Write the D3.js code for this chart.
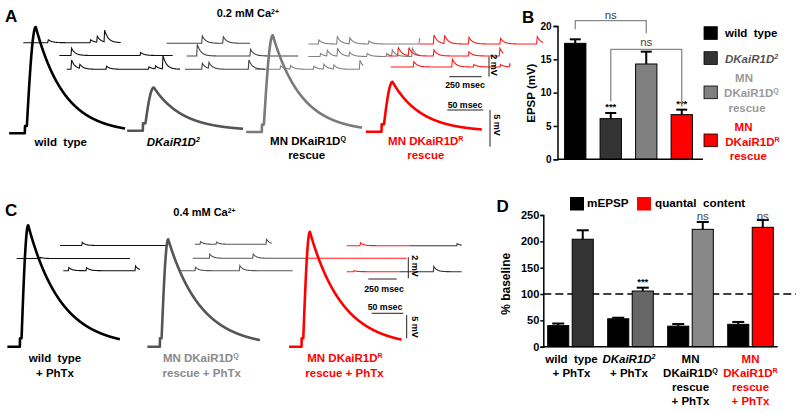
<!DOCTYPE html>
<html><head><meta charset="utf-8">
<script src="https://cdn.jsdelivr.net/npm/d3@7"></script>
<style>body{margin:0;background:#fff} svg{display:block} text{font-family:"Liberation Sans",Arial,sans-serif;white-space:pre}</style>
</head><body><svg id="fig" width="800" height="412"></svg>
<script>
// ================= DATA =================
// Panel B : EPSP amplitude (mV), 0.2 mM Ca2+
const bCategories = ["wild type", "DKaiR1D2", "MN DKaiR1DQ rescue", "MN DKaiR1DR rescue"];
const bEpsp = [17.4, 6.1, 14.3, 6.7];
const bSem = [0.6, 0.85, 1.85, 0.75];
const bSig = ["", "***", "", "***"];
const bTicks = [0, 5, 10, 15, 20];

// Panel D : % baseline, + PhTx
const dGroups = ["wild type + PhTx", "DKaiR1D2 + PhTx", "MN DKaiR1DQ rescue + PhTx", "MN DKaiR1DR rescue + PhTx"];
const dSeries = ["mEPSP", "quantal content"];
const dMepsp = [40, 53, 39, 42.5];
const dMepspSem = [4, 2, 4, 4.5];
const dQuantal = [204, 105.7, 222.8, 226.6];
const dQuantalSem = [17, 6.3, 14, 14];
const dSig = ["", "***", "ns", "ns"];
const dTicks = [0, 50, 100, 150, 200, 250];
const dBaseline = 100;

// Representative evoked EPSP amplitudes (mV)
const epspAmpA = [14.5, 5.9, 13.2, 6.8];   // wt, DKaiR1D2, Q rescue, R rescue (0.2 mM)
const epspAmpC = [26, 23, 24.6];           // wt, Q rescue, R rescue (+PhTx, 0.4 mM)

// Spontaneous miniature events per sweep: [time (ms), amplitude (mV)]
const minisA_wt = [
  [[188,0.3],[515,0.3],[566,0.6],[623,1.17]],
  [[90,0.72],[623,0.3]],
  [[33,0.93],[97,0.4],[303,0.3],[630,0.25],[681,0.3],[738,1.33]]];
const minisA_dk = [
  [[270,0.73],[432,0.66]],
  [[77,1.17],[488,0.67]],
  [[129,0.6],[180,0.6],[488,0.93]]];
const minisA_q = [
  [[77,0.4],[219,0.73],[316,0.6],[463,0.3],[854,0.5]],
  [[90,0.3],[142,0.58],[221,0.8],[314,0.4],[450,0.3],[600,0.3],[643,0.6],[798,0.8]],
  [[193,0.35],[270,0.35],[450,0.3],[527,0.5],[604,0.4],[805,0.9]]];
const minisA_r = [
  [[103,0.9],[185,0.83],[373,0.67],[617,0.57],[900,0.73]],
  [[80,0.87],[162,0.8],[355,0.6],[625,0.43],[864,0.77]],
  [[174,0.53],[471,0.77],[637,0.25],[843,0.25],[915,0.3]]];
const minisC_wt = [[[191,0.3]], [[205,0.1]], [[44,0.3],[200,0.3],[631,0.45]]];
const minisC_q = [[[44,0.25],[185,0.2],[625,0.48]], [[146,0.4],[528,0.4]], [[132,0.33],[522,0.48]]];
const minisC_r = [[[117,0.28]], [], [[60,0.1]]];
const minisC_tail = [[[410,0.2]], [[293,0.5]]];

// ================= HELPERS =================
const svg = d3.select("#fig");

function label(g, x, y, parts, o = {}) {
  const t = g.append("text").attr("x", x).attr("y", y)
    .attr("text-anchor", o.anchor || "middle")
    .attr("font-size", o.size || 11.5)
    .attr("font-weight", o.weight || "bold")
    .attr("font-style", o.italic ? "italic" : "normal")
    .attr("fill", o.color || "#000");
  if (o.family) t.style("font-family", o.family);
  if (o.rotate) t.attr("transform", `rotate(${o.rotate},${x},${y})`);
  (Array.isArray(parts) ? parts : [parts]).forEach(p => {
    if (typeof p === "string") t.append("tspan").text(p);
    else t.append("tspan").attr("baseline-shift", "super").attr("font-size", "62%").text(p.sup);
  });
  return t;
}

function miniKernel(dt) {
  if (dt < 0) return 0;
  if (dt < 5) return dt / 5;
  return Math.exp(-(dt - 5) / 28);
}
function drawSweep(g, events, c) {
  const x = d3.scaleLinear().domain([0, c.dur]).range([c.x0, c.x0 + c.dur * c.pxMs]);
  const y = d3.scaleLinear().domain([0, 1]).range([c.y0, c.y0 - c.pxMv]);
  const ts = d3.range(0, c.dur + 0.01, 1);
  const v = t => d3.sum(events, e => e[1] * miniKernel(t - e[0]));
  g.append("path").datum(ts)
    .attr("d", d3.line().x(t => x(t)).y(t => y(v(t))))
    .attr("fill", "none").attr("stroke", c.color).attr("stroke-width", c.w || 1.1);
}
function epspKernel(t, c) {
  if (t < 0) return 0;
  const d = 2;
  let k;
  if (t < d) k = 0;
  else if (t < d + c.rise) k = Math.sin(Math.PI / 2 * (t - d) / c.rise);
  else k = Math.exp(-(t - d - c.rise) / c.tau);
  return k;
}
function drawEpsp(g, amp, c) {
  const x = d3.scaleLinear().domain([-c.pre, c.post]).range([c.onset - c.pre * c.pxMs, c.onset + c.post * c.pxMs]);
  const y = d3.scaleLinear().domain([0, 1]).range([c.y0, c.y0 - c.pxMv]);
  const ts = d3.range(-c.pre, c.post + 0.01, 0.25);
  const v = t => {
    let val = amp * epspKernel(t, c);
    if (t >= 0 && t < 4) val = Math.max(val, c.art);
    return val;
  };
  g.append("path").datum(ts)
    .attr("d", d3.line().x(t => x(t)).y(t => y(v(t))))
    .attr("fill", "none").attr("stroke", c.color).attr("stroke-width", 2.6)
    .attr("stroke-linejoin", "round");
}

// ================= PANEL A =================
const gA = svg.append("g");
label(gA, 5, 22, "A", {size: 17, anchor: "start"});
label(gA, 216.7, 17, ["0.2 mM Ca", {sup: "2+"}], {size: 11, anchor: "start"});

const mA = {pxMs: 0.1296, pxMv: 10};
const sweepLayoutA = {
  wt: [{x0: 23.3, y0: 42.7, dur: 752}, {x0: 59.3, y0: 55.5, dur: 875}, {x0: 66.7, y0: 69.3, dur: 874}],
  dk: [{x0: 166.7, y0: 43.3, dur: 643}, {x0: 186.7, y0: 56, dur: 861}, {x0: 185, y0: 69.3, dur: 617}],
  q:  [{x0: 308.3, y0: 44, dur: 862}, {x0: 308.3, y0: 56.5, dur: 862}, {x0: 255, y0: 69.3, dur: 836}],
  r:  [{x0: 420, y0: 44, dur: 949}, {x0: 387.3, y0: 56, dur: 895}, {x0: 390.7, y0: 67, dur: 926}]
};
const miniColA = {wt: "#111", dk: "#444", q: "#808080", r: "#ff1a1a"};
[["q", minisA_q], ["dk", minisA_dk], ["wt", minisA_wt], ["r", minisA_r]].forEach(([k, arr]) => {
  arr.forEach((ev, i) => drawSweep(gA, ev, Object.assign({}, mA, sweepLayoutA[k][i], {color: miniColA[k]})));
});

const eA = {pxMs: 0.72, pxMv: 7.33, pre: 22, post: 139, rise: 13, tau: 40, art: 1.0};
const epspLayoutA = [
  {onset: 25, y0: 133.3, color: "#000"},
  {onset: 143, y0: 130.7, color: "#555"},
  {onset: 262, y0: 132, color: "#7a7a7a"},
  {onset: 381.7, y0: 131.7, color: "#ff0000"}];
epspAmpA.forEach((a, i) => drawEpsp(gA, a, Object.assign({}, eA, epspLayoutA[i])));

// labels A
label(gA, 60.8, 145.7, "wild  type");
label(gA, 173.3, 145.7, ["DKaiR1D", {sup: "2"}], {italic: true});
label(gA, 308, 145, ["MN DKaiR1D", {sup: "Q"}]);
label(gA, 306.7, 159.3, "rescue");
label(gA, 425.8, 145, ["MN DKaiR1D", {sup: "R"}], {color: "#ff0000"});
label(gA, 425.8, 159.3, "rescue", {color: "#ff0000"});

// scale bars A
const sbA = gA.append("g").attr("stroke", "#222").attr("stroke-width", 1);
sbA.append("line").attr("x1", 489).attr("x2", 489).attr("y1", 56.7).attr("y2", 76.7);
sbA.append("line").attr("x1", 449.3).attr("x2", 481.7).attr("y1", 76.7).attr("y2", 76.7);
sbA.append("line").attr("x1", 447.3).attr("x2", 483.3).attr("y1", 110).attr("y2", 110);
sbA.append("line").attr("x1", 490).attr("x2", 490).attr("y1", 110).attr("y2", 146.7);
label(gA, 491, 65, "2 mV", {size: 9, rotate: 90});
label(gA, 465, 88, "250 msec", {size: 8.8});
label(gA, 465, 107.5, "50 msec", {size: 8.8});
label(gA, 494, 125, "5 mV", {size: 9, rotate: 90});

// ================= PANEL B =================
const gB = svg.append("g");
label(gB, 522, 22.7, "B", {size: 17, anchor: "start"});
const yB = d3.scaleLinear().domain([0, 20]).range([159.3, 26]);
const xB = d3.scaleBand().domain(bCategories).range([557.5, 699.5]).paddingInner(0.4).paddingOuter(0.2);
const bColors = ["#000", "#333", "#808080", "#ff0000"];

gB.selectAll("rect.bar").data(bEpsp).join("rect")
  .attr("x", (d, i) => xB(bCategories[i])).attr("width", xB.bandwidth())
  .attr("y", d => yB(d)).attr("height", d => yB(0) - yB(d))
  .attr("fill", (d, i) => bColors[i]).attr("stroke", "#000").attr("stroke-width", 1);
const errB = gB.append("g").attr("stroke", "#000").attr("stroke-width", 2);
bEpsp.forEach((d, i) => {
  const cx = xB(bCategories[i]) + xB.bandwidth() / 2;
  errB.append("line").attr("x1", cx).attr("x2", cx).attr("y1", yB(d)).attr("y2", yB(d + bSem[i]));
  errB.append("line").attr("x1", cx - 5.5).attr("x2", cx + 5.5).attr("y1", yB(d + bSem[i])).attr("y2", yB(d + bSem[i]));
  if (bSig[i]) label(gB, cx, yB(d + bSem[i]) - 3, bSig[i], {size: 9.5});
});
const axB = gB.append("g").attr("transform", "translate(557.5,0)")
  .call(d3.axisLeft(yB).tickValues(bTicks).tickSize(4).tickPadding(2));
axB.selectAll("text").attr("font-family", "DejaVu Sans").attr("font-weight", "bold").attr("font-size", 10).attr("fill", "#000");
axB.selectAll("line,path").attr("stroke", "#000").attr("stroke-width", 1.5);
gB.append("line").attr("x1", 557.5).attr("x2", 703).attr("y1", yB(0)).attr("y2", yB(0)).attr("stroke", "#000").attr("stroke-width", 1.5);
label(gB, 535, yB(10) + 0.5, "EPSP (mV)", {rotate: -90});

// significance brackets
const cB = i => xB(bCategories[i]) + xB.bandwidth() / 2;
const br = gB.append("g").attr("fill", "none").attr("stroke", "#888").attr("stroke-width", 1.3);
br.append("path").attr("d", `M${cB(0)},${yB(19.5)}V${yB(20.8)}H${cB(2)}V${yB(18.9)}`);
br.append("path").attr("d", `M${cB(1)},${yB(8.7)}V${yB(16.5)}H${cB(3)}V${yB(7.9)}`);
label(gB, (cB(0) + cB(2)) / 2, 18.5, "ns", {size: 11.5, weight: "normal", color: "#444"});
label(gB, (cB(1) + cB(3)) / 2, 46, "ns", {size: 11.5, weight: "normal", color: "#444"});

// legend B
const legB = [
  {y: 26.7, fill: "#000"}, {y: 51.7, fill: "#333"}, {y: 86, fill: "#808080"}, {y: 134, fill: "#ff0000"}];
legB.forEach(l => gB.append("rect").attr("x", 704).attr("y", l.y).attr("width", 13.3).attr("height", 12.7)
  .attr("fill", l.fill).attr("stroke", "#000").attr("stroke-width", 0.8));
label(gB, 725, 36.6, "wild  type", {anchor: "start"});
label(gB, 725, 62.6, ["DKaiR1D", {sup: "2"}], {anchor: "start", italic: true, color: "#555"});
label(gB, 744, 82.3, "MN", {color: "#9a9a9a"});
label(gB, 751.5, 97.3, ["DKaiR1D", {sup: "Q"}], {color: "#9a9a9a"});
label(gB, 747, 111.5, "rescue", {color: "#9a9a9a"});
label(gB, 743.5, 131, "MN", {color: "#ff0000"});
label(gB, 752.5, 145.6, ["DKaiR1D", {sup: "R"}], {color: "#ff0000"});
label(gB, 748.3, 159.5, "rescue", {color: "#ff0000"});

// ================= PANEL C =================
const gC = svg.append("g");
label(gC, 5, 216, "C", {size: 17, anchor: "start"});
label(gC, 173.3, 215.5, ["0.4 mM Ca", {sup: "2+"}], {size: 11, anchor: "start"});

const mC = {pxMs: 0.1136, pxMv: 10.5};
const sweepLayoutC = {
  wt: [{x0: 60, y0: 245.5, dur: 939}, {x0: 16.7, y0: 258.5, dur: 997}, {x0: 63.3, y0: 270.7, dur: 675}],
  q:  [{x0: 195, y0: 244.3, dur: 675}, {x0: 192.7, y0: 258.3, dur: 1015}, {x0: 180, y0: 270.7, dur: 992}],
  r:  [{x0: 346.7, y0: 245.7, dur: 557}, {x0: 306.7, y0: 258.3, dur: 880}, {x0: 346.7, y0: 271.7, dur: 469}],
  tail: [{x0: 410, y0: 245.7, dur: 455}, {x0: 400, y0: 271.7, dur: 543}]
};
const miniColC = {wt: "#111", q: "#555", r: "#ff1a1a", tail: "#333"};
[["wt", minisC_wt], ["q", minisC_q], ["tail", minisC_tail], ["r", minisC_r]].forEach(([k, arr]) => {
  arr.forEach((ev, i) => drawSweep(gC, ev, Object.assign({}, mC, sweepLayoutC[k][i], {color: miniColC[k]})));
});

const eC = {pxMs: 0.632, pxMv: 4.67, pre: 20, post: 158, rise: 11, tau: 52, art: 1.8};
const epspLayoutC = [
  {onset: 20, y0: 346.7, color: "#000"},
  {onset: 160, y0: 346.7, color: "#555"},
  {onset: 301.7, y0: 346.7, color: "#ff0000"}];
epspAmpC.forEach((a, i) => drawEpsp(gC, a, Object.assign({}, eC, epspLayoutC[i])));

label(gC, 55, 362.3, "wild  type");
label(gC, 55, 376.6, "+ PhTx");
label(gC, 200.8, 362.3, ["MN DKaiR1D", {sup: "Q"}], {color: "#8a8a8a"});
label(gC, 201.7, 376.6, "rescue + PhTx", {color: "#8a8a8a"});
label(gC, 345, 362.3, ["MN DKaiR1D", {sup: "R"}], {color: "#ff0000"});
label(gC, 344.5, 376.6, "rescue + PhTx", {color: "#ff0000"});

const sbC = gC.append("g").attr("stroke", "#222").attr("stroke-width", 1);
sbC.append("line").attr("x1", 408.3).attr("x2", 408.3).attr("y1", 257.3).attr("y2", 278.3);
sbC.append("line").attr("x1", 368.3).attr("x2", 396.7).attr("y1", 279).attr("y2", 279);
sbC.append("line").attr("x1", 371.7).attr("x2", 403.3).attr("y1", 313.3).attr("y2", 313.3);
sbC.append("line").attr("x1", 406.7).attr("x2", 406.7).attr("y1", 315).attr("y2", 338.3);
label(gC, 411.5, 266, "2 mV", {size: 9, rotate: 90});
label(gC, 384, 292, "250 msec", {size: 8.8});
label(gC, 385, 309.5, "50 msec", {size: 8.8});
label(gC, 411.5, 327, "5 mV", {size: 9, rotate: 90});

// ================= PANEL D =================
const gD = svg.append("g");
label(gD, 496.5, 211.7, "D", {size: 17, anchor: "start"});
const yD = d3.scaleLinear().domain([0, 250]).range([346.7, 215]);
const xD = d3.scaleBand().domain(dGroups).range([543.3, 777.7]).paddingInner(0.24).paddingOuter(0.073);
const xDs = d3.scaleBand().domain(dSeries).range([0, xD.bandwidth()]).paddingInner(0.14);
const dQColors = ["#333", "#666", "#888", "#ff0000"];

// dashed baseline
gD.append("line").attr("x1", 543.3).attr("x2", 796).attr("y1", yD(dBaseline)).attr("y2", yD(dBaseline))
  .attr("stroke", "#000").attr("stroke-width", 1.5).attr("stroke-dasharray", "8,4");

dGroups.forEach((gname, i) => {
  const x0 = xD(gname);
  [[dMepsp[i], dMepspSem[i], "#000", "mEPSP"], [dQuantal[i], dQuantalSem[i], dQColors[i], "quantal content"]].forEach(([v, s, col, ser]) => {
    const x = x0 + xDs(ser);
    gD.append("rect").attr("x", x).attr("width", xDs.bandwidth()).attr("y", yD(v)).attr("height", yD(0) - yD(v))
      .attr("fill", col).attr("stroke", "#000").attr("stroke-width", 1);
    const cx = x + xDs.bandwidth() / 2;
    gD.append("line").attr("x1", cx).attr("x2", cx).attr("y1", yD(v)).attr("y2", yD(v + s)).attr("stroke", "#000").attr("stroke-width", 2);
    gD.append("line").attr("x1", cx - 6).attr("x2", cx + 6).attr("y1", yD(v + s)).attr("y2", yD(v + s)).attr("stroke", "#000").attr("stroke-width", 2);
    if (ser === "quantal content" && dSig[i]) {
      if (dSig[i] === "ns") label(gD, cx, 219.5, "ns", {size: 11.5, weight: "normal", color: "#444"});
      else label(gD, cx, yD(v + s) - 2.5, dSig[i], {size: 9.5});
    }
  });
});
const axD = gD.append("g").attr("transform", "translate(543.3,0)")
  .call(d3.axisLeft(yD).tickValues(dTicks).tickSize(3).tickPadding(1));
axD.selectAll("text").attr("font-family", "DejaVu Sans").attr("font-weight", "bold").attr("font-size", 11).attr("fill", "#000");
axD.selectAll("line,path").attr("stroke", "#000").attr("stroke-width", 1.5);
gD.append("line").attr("x1", 543.3).attr("x2", 777.7).attr("y1", yD(0)).attr("y2", yD(0)).attr("stroke", "#000").attr("stroke-width", 1.5);
label(gD, 510.5, yD(125) + 3, "% baseline", {size: 12, rotate: -90});

// legend D
gD.append("rect").attr("x", 570).attr("y", 197).attr("width", 14).attr("height", 13.5).attr("fill", "#000");
label(gD, 587, 207, "mEPSP", {size: 11.7, anchor: "start"});
gD.append("rect").attr("x", 637).attr("y", 197).attr("width", 14).attr("height", 13.5).attr("fill", "#ff0000");
label(gD, 655, 207, "quantal  content", {size: 11.7, anchor: "start"});

// x labels D
const cD = i => xD(dGroups[i]) + xD.bandwidth() / 2;
label(gD, cD(0) + 1, 363.3, "wild  type");
label(gD, cD(0) + 1, 377.3, "+ PhTx");
label(gD, cD(1) - 1.5, 363.3, ["DKaiR1D", {sup: "2"}], {italic: true});
label(gD, cD(1) - 1.5, 377.3, "+ PhTx");
label(gD, cD(2), 363.3, "MN");
label(gD, cD(2), 377.3, ["DKaiR1D", {sup: "Q"}]);
label(gD, cD(2), 391.3, "rescue");
label(gD, cD(2), 405.3, "+ PhTx");
label(gD, cD(3), 363.3, "MN", {color: "#ff0000"});
label(gD, cD(3), 377.3, ["DKaiR1D", {sup: "R"}], {color: "#ff0000"});
label(gD, cD(3), 391.3, "rescue", {color: "#ff0000"});
label(gD, cD(3), 405.3, "+ PhTx", {color: "#ff0000"});
</script></body></html>
